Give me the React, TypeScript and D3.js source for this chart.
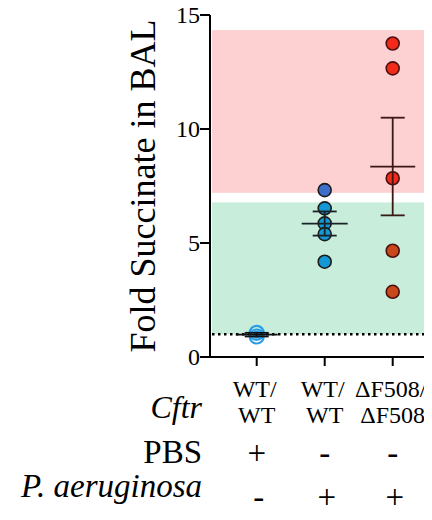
import { useEffect, useRef } from "react";
import * as d3 from "d3";

const W = 432;
const H = 520;

const groups = ["wtPbs", "wtPa", "dfPa"];
const cftrTop = ["WT/", "WT/", "ΔF508/"];
const cftrBottom = ["WT", "WT", "ΔF508"];
const pbsRow = ["+", "-", "-"];
const paRow = ["-", "+", "+"];

const wtPbsValues = [1.06, 0.9];
const wtPaValues = [7.32, 6.52, 5.86, 5.39, 4.18];
const dfPaValues = [13.75, 12.66, 7.84, 4.66, 2.86];
const wtPaColors = ["#3c6fcb", "#1497d5", "#1497d5", "#1497d5", "#1497d5"];
const dfPaColors = ["#f22a1a", "#f22a1a", "#f22a1a", "#c9471c", "#c9471c"];

const yTicks = [0, 5, 10, 15];
const redBand = [7.2, 14.34];
const greenBand = [1.0, 6.78];
const baseline = 1;

const FONT = "Liberation Serif";

function sem(v: number[]) {
  return (d3.deviation(v) || 0) / Math.sqrt(v.length);
}

export default function App() {
  const ref = useRef<SVGSVGElement>(null);

  useEffect(() => {
    const svg = d3.select(ref.current);
    svg.selectAll("*").remove();

    const axisX = 210;
    const y = d3.scaleLinear().domain([0, 15]).range([357, 15]);
    const x = d3.scaleBand().domain(groups).range([222.7, 426.7]);
    const cx = (g: string) => (x(g) || 0) + x.bandwidth() / 2;

    const label = (
      txt: string,
      px: number,
      py: number,
      size: number,
      anchor: string,
      italic = false
    ) =>
      svg
        .append("text")
        .attr("x", px)
        .attr("y", py)
        .attr("text-anchor", anchor)
        .attr("font-family", FONT)
        .attr("font-size", size)
        .attr("font-style", italic ? "italic" : "normal")
        .style("font-family", `"${FONT}"`)
        .text(txt);

    // bands
    svg.append("rect")
      .attr("x", axisX + 2).attr("width", W - axisX - 2)
      .attr("y", y(redBand[1])).attr("height", y(redBand[0]) - y(redBand[1]))
      .attr("fill", "#fdd1d1");
    svg.append("rect")
      .attr("x", axisX + 2).attr("width", W - axisX - 2)
      .attr("y", y(greenBand[1])).attr("height", y(greenBand[0]) - y(greenBand[1]))
      .attr("fill", "#c8eedb");

    // dotted line at 1
    svg.append("line")
      .attr("x1", axisX + 2).attr("x2", W)
      .attr("y1", y(baseline)).attr("y2", y(baseline))
      .attr("stroke", "#000").attr("stroke-width", 2.5)
      .attr("stroke-dasharray", "2.5 3.5");

    // axes
    svg.append("line")
      .attr("x1", axisX).attr("x2", axisX).attr("y1", y(15)).attr("y2", y(0))
      .attr("stroke", "#000").attr("stroke-width", 2);
    svg.append("line")
      .attr("x1", axisX).attr("x2", W).attr("y1", y(0)).attr("y2", y(0))
      .attr("stroke", "#000").attr("stroke-width", 2);
    yTicks.forEach((t) => {
      svg.append("line")
        .attr("x1", axisX - 10).attr("x2", axisX).attr("y1", y(t)).attr("y2", y(t))
        .attr("stroke", "#000").attr("stroke-width", 2);
      label(String(t), axisX - 10, y(t) + 8, 24, "end");
    });
    groups.forEach((g) => {
      svg.append("line")
        .attr("x1", cx(g)).attr("x2", cx(g)).attr("y1", y(0)).attr("y2", y(0) + 9)
        .attr("stroke", "#000").attr("stroke-width", 2);
    });

    label("Fold Succinate in BAL", 0, 0, 36, "middle")
      .attr("transform", "translate(155,186) rotate(-90)");

    // group 1: open circles
    wtPbsValues.forEach((v) => {
      svg.append("circle")
        .attr("cx", cx("wtPbs")).attr("cy", y(v)).attr("r", 7)
        .attr("fill", "none").attr("stroke", "#2a9ee8").attr("stroke-width", 2.2);
    });
    svg.append("circle")
      .attr("cx", cx("wtPbs")).attr("cy", y(d3.mean(wtPbsValues) || 1)).attr("r", 4)
      .attr("fill", "#2a9ee8");

    // filled points
    wtPaValues.forEach((v, i) => {
      svg.append("circle")
        .attr("cx", cx("wtPa")).attr("cy", y(v)).attr("r", 6.5)
        .attr("fill", wtPaColors[i]).attr("stroke", "#1b1b1b").attr("stroke-width", 1.6);
    });
    dfPaValues.forEach((v, i) => {
      svg.append("circle")
        .attr("cx", cx("dfPa")).attr("cy", y(v)).attr("r", 6.5)
        .attr("fill", dfPaColors[i]).attr("stroke", "#4a1010").attr("stroke-width", 1.6);
    });

    // mean +/- SEM
    const series = [
      { g: "wtPbs", values: wtPbsValues, half: 21, bar: "#111" },
      { g: "wtPa", values: wtPaValues, half: 23, bar: "#1a2228" },
      { g: "dfPa", values: dfPaValues, half: 22.5, bar: "#3a1814" },
    ];
    series.forEach((s) => {
      const m = d3.mean(s.values) || 0;
      const e = sem(s.values);
      const c = cx(s.g);
      const gEl = svg.append("g").attr("stroke", s.bar).attr("stroke-width", 1.8);
      const seg = (x1: number, x2: number, y1: number, y2: number) =>
        gEl.append("line").attr("x1", x1).attr("x2", x2).attr("y1", y1).attr("y2", y2);
      seg(c - s.half, c + s.half, y(m), y(m));
      seg(c, c, y(m + e), y(m - e));
      seg(c - 12, c + 12, y(m + e), y(m + e));
      seg(c - 12, c + 12, y(m - e), y(m - e));
    });

    // category rows
    label("Cftr", 202, 418, 32, "end", true);
    groups.forEach((g, i) => {
      label(cftrTop[i], cx(g) - 2, 397, 24, "middle");
      label(cftrBottom[i], cx(g), 423, 24, "middle");
    });
    label("PBS", 202, 463, 33, "end");
    groups.forEach((g, i) => label(pbsRow[i], cx(g), 464, 33, "middle"));
    label("P. aeruginosa", 202, 497, 33, "end", true);
    groups.forEach((g, i) => label(paRow[i], cx(g) + 2, 508, 33, "middle"));
  }, []);

  return (
    <div style={{ margin: -8 }}>
      <svg ref={ref} width={W} height={H} style={{ display: "block" }} />
    </div>
  );
}
